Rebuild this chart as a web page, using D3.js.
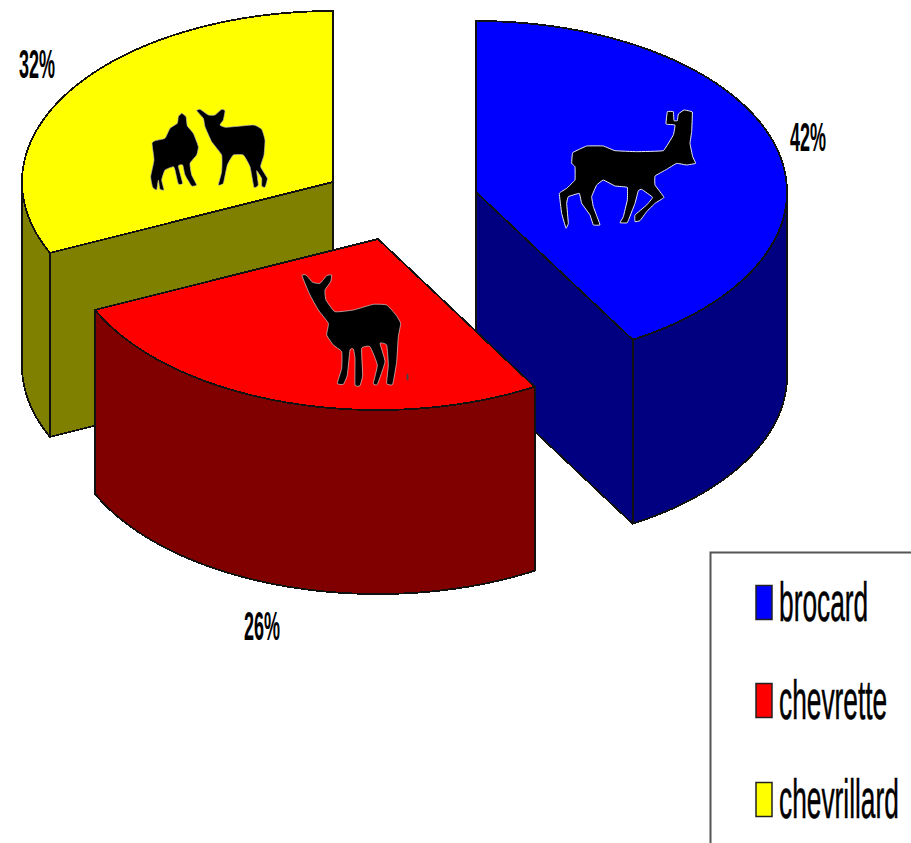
<!DOCTYPE html>
<html><head><meta charset="utf-8">
<script src="https://cdn.jsdelivr.net/npm/d3@7/dist/d3.min.js"></script>
<style>html,body{margin:0;padding:0;background:#fff;overflow:hidden}svg{display:block}</style>
</head><body><div id="c"></div>
<script>
const categories = ["brocard","chevrette","chevrillard"];
const shares = [41.6,26.6,31.8];
const labels = ["42%","26%","32%"];
const topColors = ["#0000ff","#ff0000","#ffff00"];
const sideColors = ["#000080","#800000","#808000"];

// silhouettes, outlined in their own local units
const stag = [[382,35],[400,35],[402,62],[412,62],[415,42],[432,30],[457,36],[455,95],[450,130],[458,170],[467,190],[440,195],[410,190],[380,208],[345,228],[345,255],[372,292],[345,310],[320,335],[300,362],[285,365],[285,345],[320,315],[338,292],[305,268],[295,272],[285,310],[262,368],[240,368],[250,350],[262,300],[262,262],[225,258],[190,240],[170,255],[155,290],[160,320],[175,360],[180,375],[160,375],[150,345],[125,310],[118,280],[85,290],[80,310],[85,370],[78,385],[65,340],[58,280],[80,265],[105,240],[105,200],[95,190],[98,158],[140,138],[190,138],[225,152],[290,155],[370,152],[400,105],[405,75],[378,72]];
const fawnA = [[115,50],[125,40],[138,50],[142,78],[160,100],[175,140],[170,165],[150,190],[155,225],[170,255],[155,258],[135,225],[128,195],[115,198],[128,250],[115,252],[105,210],[100,200],[75,210],[65,240],[72,270],[60,268],[55,240],[50,270],[38,262],[32,230],[42,180],[36,130],[45,122],[75,115],[90,85],[112,70]];
const fawnB = [[170,32],[180,28],[205,45],[225,45],[245,28],[255,32],[250,60],[240,75],[258,82],[340,75],[365,88],[375,120],[372,165],[362,200],[382,235],[375,262],[365,258],[365,235],[350,212],[355,255],[342,262],[330,200],[310,165],[280,165],[262,195],[250,250],[235,255],[245,215],[245,165],[215,125],[195,80],[190,55]];
const doe = [[36,32],[48,30],[68,52],[90,55],[110,32],[125,30],[122,50],[105,75],[108,105],[135,140],[190,135],[250,118],[290,120],[318,150],[332,175],[325,215],[320,290],[308,358],[290,355],[295,300],[290,240],[270,235],[285,290],[262,358],[250,355],[262,300],[240,245],[215,250],[218,330],[210,362],[195,360],[195,280],[190,252],[180,255],[172,330],[160,358],[142,355],[155,310],[155,260],[130,240],[110,210],[115,175],[85,135],[60,90]];

const W=911,H=843, RX=311, RY=171, DEPTH=184;
const centers=[[476,192],[378,239],[333,182]];
const labelPos=[[790,151],[244,640],[19,78]];
const rowY=[603,701,800];

const svg=d3.select("#c").append("svg").attr("width",W).attr("height",H);
const pie=d3.pie().sort(null).value(d=>d)(shares);
const lineGen=d3.line();
const proj=(c,a,dz=0)=>[c[0]+RX*Math.sin(a),c[1]-RY*Math.cos(a)+dz];
const arcPts=(c,a0,a1,dz=0)=>{const n=Math.max(2,Math.ceil((a1-a0)*60));
  return d3.range(n+1).map(i=>proj(c,a0+(a1-a0)*i/n,dz));};
const poly=(pts,fill)=>svg.append("path").attr("d",lineGen(pts)+"Z").attr("fill",fill)
  .attr("stroke","#111").attr("stroke-width",1.8).attr("stroke-linejoin","round").attr("shape-rendering","crispEdges");

// paint back to front: chevrillard, brocard, chevrette
[2,0,1].forEach(i=>{
  const s=pie[i],c=centers[i],a0=s.startAngle,a1=s.endAngle;
  const side=sideColors[i];
  const down=p=>[p[0],p[1]+DEPTH];
  [a0,a1].forEach(a=>{
    const e=proj(c,a);
    poly([c,e,down(e),down(c)],side);
  });
  const f0=Math.max(a0,Math.PI/2),f1=Math.min(a1,Math.PI*1.5);
  if(f1>f0){
    const top=arcPts(c,f0,f1);
    poly(top.concat(top.slice().reverse().map(down)),side);
  }
  poly([c].concat(arcPts(c,a0,a1)),topColors[i]);
});

// silhouettes
const smooth=d3.line().curve(d3.curveCardinalClosed.tension(0.6));
const tight=d3.line().curve(d3.curveCardinalClosed.tension(0.8));
function deer(pts,gen,ox,oy,stroke,sw){
  svg.append("path").attr("d",gen(pts)).attr("fill","#000").attr("stroke",stroke).attr("stroke-width",sw)
    .attr("transform",`translate(${ox},${oy}) scale(${1/3})`);
}
deer(stag,tight,540,100,"#eee",3);
deer(fawnA,smooth,140,100,"#bbb",2);
deer(fawnB,smooth,140,100,"#bbb",2);
deer(doe,smooth,290,265,"#ddd",2);
svg.append("ellipse").attr("cx",407.5).attr("cy",377).attr("rx",1).attr("ry",3.5).attr("fill","#444");

// percent labels
labels.forEach((t,i)=>{
  svg.append("text").text(t)
    .attr("transform",`translate(${labelPos[i][0]},${labelPos[i][1]}) scale(1,2.3)`)
    .attr("font-family","'Liberation Sans',Arial,sans-serif").attr("font-weight","bold").attr("font-size",18)
    .attr("fill","#000");
});

// legend
svg.append("path").attr("d",d3.line()([[710.5,H],[710.5,552.5],[W,552.5]]))
  .attr("fill","none").attr("stroke","#555").attr("stroke-width",2);
categories.forEach((t,i)=>{
  const y=rowY[i];
  svg.append("rect").attr("x",756).attr("y",y-17.5).attr("width",16).attr("height",34)
    .attr("fill",topColors[i]).attr("stroke","#222").attr("stroke-width",1.5);
  svg.append("text").text(t)
    .attr("transform",`translate(779,${y+18}) scale(1,2.1)`)
    .attr("font-family","'Liberation Sans',Arial,sans-serif").attr("font-size",26.3)
    .attr("stroke","#000").attr("stroke-width",0.25)
    .attr("fill","#000");
});
</script></body></html>
